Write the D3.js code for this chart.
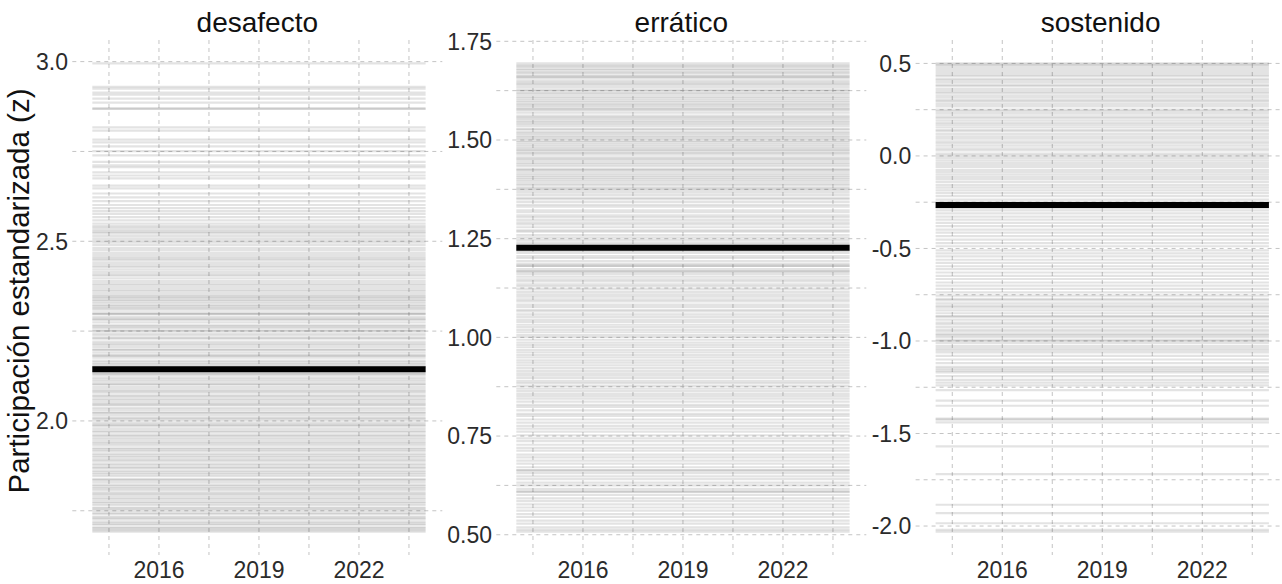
<!DOCTYPE html>
<html><head><meta charset="utf-8">
<script src="https://cdn.jsdelivr.net/npm/d3@7"></script>
<style>body{margin:0;background:#fff} text{font-family:"Liberation Sans",Arial,Helvetica,sans-serif}</style>
</head><body>
<svg id="chart" width="1282" height="584"></svg>
<script>
// ---------------- data ----------------
const yearSpan = [2014, 2024];
const xTickLabels = [2016, 2019, 2022];
const xMinorTicks = [2014.5, 2017.5, 2020.5, 2023.5];
const panelNames = ["desafecto", "errático", "sostenido"];
const yAxisTitle = "Participación estandarizada (z)";

const desafecto = [2.995, 2.93, 2.925, 2.914, 2.908, 2.897, 2.886, 2.869, 2.869, 2.817, 2.808, 2.783, 2.775, 2.764,
  2.751, 2.739, 2.721, 2.711, 2.706, 2.692, 2.683, 2.675, 2.655, 2.647, 2.633, 2.622, 2.612, 2.601, 2.592, 2.584,
  2.576, 2.567, 2.558, 2.549, 2.542, 2.537, 2.531, 2.526, 2.522, 2.515, 2.508, 2.502, 2.496, 2.489, 2.481,
  2.475, 2.468, 2.462, 2.456, 2.451, 2.446, 2.439, 2.433, 2.428, 2.421, 2.414, 2.408, 2.404, 2.397, 2.389, 2.383,
  2.378, 2.372, 2.366, 2.361, 2.355, 2.349, 2.346, 2.342, 2.337, 2.333, 2.328, 2.322, 2.319, 2.314, 2.31,
  2.302, 2.297, 2.297, 2.289, 2.284, 2.281, 2.274, 2.266, 2.263, 2.258, 2.251, 2.251, 2.244, 2.239, 2.232, 2.229,
  2.221, 2.216, 2.212, 2.206, 2.199, 2.197, 2.19, 2.183, 2.181, 2.176, 2.168, 2.163, 2.158, 2.153, 2.149, 2.139,
  2.134, 2.131, 2.127, 2.12, 2.114, 2.109, 2.103, 2.101, 2.094, 2.088, 2.083, 2.079, 2.071, 2.068, 2.062, 2.057,
  2.051, 2.046, 2.043, 2.036, 2.031, 2.024, 2.022, 2.016, 2.009, 2.006, 2.001, 1.994, 1.989, 1.986, 1.979, 1.973,
  1.969, 1.962, 1.958, 1.953, 1.947, 1.941, 1.937, 1.931, 1.924, 1.921, 1.916, 1.909, 1.904, 1.899, 1.893, 1.889,
  1.882, 1.877, 1.871, 1.868, 1.861, 1.856, 1.851, 1.846, 1.838, 1.835, 1.829, 1.822, 1.818, 1.813, 1.808, 1.801,
  1.797, 1.792, 1.786, 1.781, 1.775, 1.771, 1.766, 1.759, 1.756, 1.751, 1.745, 1.741, 1.734, 1.73, 1.726, 1.719,
  1.714, 1.711, 1.704, 1.701, 1.696, 1.692];

const erratico = [1.694, 1.689, 1.686, 1.681, 1.677, 1.672, 1.668, 1.661, 1.661, 1.657, 1.651, 1.646, 1.642, 1.638,
  1.633, 1.627, 1.624, 1.619, 1.615, 1.609, 1.605, 1.6, 1.596, 1.591, 1.587, 1.582, 1.578, 1.575, 1.569, 1.562,
  1.558, 1.554, 1.549, 1.545, 1.541, 1.536, 1.529, 1.526, 1.52, 1.516, 1.511, 1.507, 1.503, 1.498, 1.494, 1.489,
  1.484, 1.479, 1.475, 1.471, 1.467, 1.463, 1.456, 1.452, 1.448, 1.443, 1.439, 1.434, 1.427, 1.424, 1.42, 1.414,
  1.409, 1.405, 1.401, 1.396, 1.39, 1.386, 1.38, 1.376, 1.372, 1.367, 1.361, 1.354, 1.35,
  1.343, 1.336, 1.331, 1.322, 1.317, 1.309, 1.304, 1.297, 1.291, 1.286, 1.279, 1.271, 1.268, 1.259, 1.253, 1.247,
  1.241, 1.236, 1.219, 1.214, 1.206, 1.201, 1.193, 1.186, 1.181, 1.181, 1.173, 1.167, 1.167, 1.161, 1.154, 1.147,
  1.142, 1.134, 1.129, 1.122, 1.115, 1.109, 1.103, 1.096, 1.091, 1.083, 1.077, 1.07, 1.066, 1.058, 1.052, 1.045,
  1.039, 1.032, 1.026, 1.019, 1.013, 1.006, 1.001, 0.994, 0.987, 0.981, 0.975, 0.968, 0.962, 0.955, 0.949, 0.942,
  0.936, 0.929, 0.922, 0.915, 0.909, 0.903, 0.897, 0.889, 0.884, 0.877, 0.87, 0.864, 0.857, 0.851,
  0.845, 0.837, 0.829, 0.824, 0.815, 0.806, 0.801, 0.792, 0.784, 0.776, 0.769, 0.761, 0.752, 0.744, 0.737, 0.728,
  0.72, 0.713, 0.703, 0.696, 0.688, 0.68, 0.671, 0.663, 0.663, 0.656, 0.648, 0.641, 0.632, 0.625, 0.616, 0.609,
  0.609, 0.601, 0.592, 0.585, 0.577, 0.569, 0.561, 0.552, 0.545, 0.536, 0.528, 0.519, 0.513, 0.508];

const sostenido = [0.5, 0.494, 0.487, 0.474, 0.463, 0.452, 0.44, 0.432, 0.418, 0.409, 0.397, 0.384, 0.376, 0.361,
  0.349, 0.34, 0.327, 0.315, 0.302, 0.293, 0.28, 0.268, 0.25, 0.241, 0.229, 0.214, 0.205, 0.192, 0.179, 0.168,
  0.155, 0.141, 0.132, 0.118, 0.104, 0.093, 0.079, 0.068, 0.055, 0.041, 0.03, 0.012, 0.002, -0.011, -0.024, -0.037,
  -0.049, -0.06, -0.076, -0.088, -0.101, -0.115, -0.127, -0.142, -0.158, -0.171, -0.186, -0.201, -0.217, -0.236,
  -0.251, -0.281, -0.294, -0.31, -0.328, -0.344, -0.362, -0.379, -0.398, -0.414, -0.433, -0.452, -0.471, -0.488,
  -0.51, -0.527, -0.543, -0.561, -0.578, -0.596, -0.612, -0.63, -0.648, -0.665, -0.684, -0.701, -0.718, -0.737,
  -0.755, -0.772, -0.78, -0.797, -0.81, -0.82, -0.835, -0.85, -0.865, -0.87, -0.885, -0.9, -0.91, -0.925, -0.94,
  -0.95, -0.963, -0.97, -0.98, -0.995, -1.0, -1.012, -1.028, -1.04, -1.05, -1.062, -1.08, -1.1, -1.12, -1.14,
  -1.15, -1.16, -1.17, -1.19, -1.21, -1.225, -1.24,
  -1.265, -1.322, -1.35, -1.42, -1.425, -1.44, -1.57, -1.72, -1.885, -1.93, -1.985, -2.02, -2.03];

const groupMeans = [2.144, 1.227, -0.265];
const yMajorTicks = [[2.0, 2.5, 3.0], [0.50, 0.75, 1.00, 1.25, 1.50, 1.75], [-2.0, -1.5, -1.0, -0.5, 0.0, 0.5]];
const yMinorTicks = [[1.75, 2.25, 2.75], [0.625, 0.875, 1.125, 1.375, 1.625], [-1.75, -1.25, -0.75, -0.25, 0.25]];
const yDecimals = [1, 2, 1];
const series = [desafecto, erratico, sostenido];

// ---------------- layout ----------------
const svg = d3.select("#chart");
const panelLefts = [72.3, 496.3, 915.6];
const panelWidth = 370;
const plotTop = 40, plotBottom = 555;
const xDomain = [2013.4, 2024.5];
const gridColor = "#c4c4c4";

panelNames.forEach((name, i) => {
  const vals = series[i];
  const ext = d3.extent(vals);
  const pad = (ext[1] - ext[0]) * 0.05;
  const y = d3.scaleLinear().domain([ext[0] - pad, ext[1] + pad]).range([plotBottom, plotTop]);
  const x = d3.scaleLinear().domain(xDomain).range([panelLefts[i], panelLefts[i] + panelWidth]);
  const g = svg.append("g");

  const hv = yMajorTicks[i].concat(yMinorTicks[i]);
  g.selectAll(".hg").data(hv).enter().append("line")
    .attr("x1", x.range()[0]).attr("x2", x.range()[1])
    .attr("y1", d => y(d)).attr("y2", d => y(d))
    .attr("stroke", gridColor).attr("stroke-width", 1).attr("stroke-dasharray", "4,4");
  const vv = xTickLabels.concat(xMinorTicks);
  g.selectAll(".vg").data(vv).enter().append("line")
    .attr("x1", d => x(d)).attr("x2", d => x(d))
    .attr("y1", plotTop).attr("y2", plotBottom)
    .attr("stroke", gridColor).attr("stroke-width", 1).attr("stroke-dasharray", "4,4");

  g.selectAll(".traj").data(vals).enter().append("line")
    .attr("x1", x(yearSpan[0])).attr("x2", x(yearSpan[1]))
    .attr("y1", d => y(d)).attr("y2", d => y(d))
    .attr("stroke", "#000").attr("stroke-opacity", 0.11).attr("stroke-width", 2.2);

  g.append("line")
    .attr("x1", x(yearSpan[0])).attr("x2", x(yearSpan[1]))
    .attr("y1", y(groupMeans[i])).attr("y2", y(groupMeans[i]))
    .attr("stroke", "#000").attr("stroke-width", 6);

  g.selectAll(".yl").data(yMajorTicks[i]).enter().append("text")
    .attr("x", x.range()[0] - 4.3).attr("y", d => y(d)).attr("dy", "0.36em")
    .attr("text-anchor", "end").attr("font-size", 23).attr("fill", "#2b2b2b")
    .text(d => d.toFixed(yDecimals[i]));

  g.selectAll(".xl").data(xTickLabels).enter().append("text")
    .attr("x", d => x(d)).attr("y", 578)
    .attr("text-anchor", "middle").attr("font-size", 23).attr("fill", "#2b2b2b")
    .text(d => d);

  g.append("text")
    .attr("x", (x.range()[0] + x.range()[1]) / 2).attr("y", 32)
    .attr("text-anchor", "middle").attr("font-size", 28).attr("fill", "#111")
    .text(name);
});

svg.append("text")
  .attr("transform", "translate(29,291) rotate(-90)")
  .attr("text-anchor", "middle").attr("font-size", 29.5).attr("fill", "#111")
  .text(yAxisTitle);
</script>
</body></html>
